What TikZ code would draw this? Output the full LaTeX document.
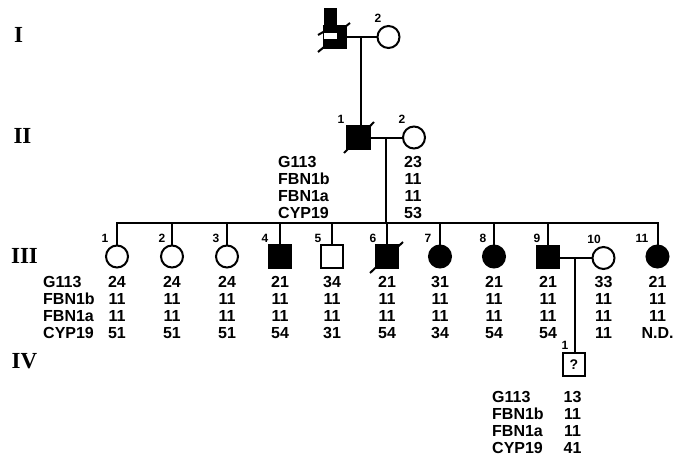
\documentclass[tikz,border=0pt]{standalone}
\usepackage{fontspec}
\setmainfont{Liberation Serif}
\newfontfamily\hv{Liberation Sans}
\begin{document}
\begin{tikzpicture}[x=1pt,y=-1pt,
  ln/.style={line width=2pt},
  fem/.style={circle,draw,line width=2pt,minimum size=22pt,inner sep=0pt},
  mal/.style={rectangle,draw,line width=2pt,minimum size=22.5pt,inner sep=0pt},
  aff/.style={fill=black},
  gen/.style={font=\bfseries\fontsize{23}{23}\selectfont,inner sep=0pt},
  idn/.style={font=\hv\bfseries\fontsize{12}{12}\selectfont,inner sep=0pt},
  geno/.style={font=\hv\bfseries\fontsize{16}{17}\selectfont,inner sep=0pt,align=center,anchor=north},
  hdr/.style={font=\hv\bfseries\fontsize{16}{17}\selectfont,inner sep=0pt,align=left,anchor=north west},
]
\useasboundingbox (0,0) rectangle (674,460);
\fill[white] (0,0) rectangle (674,460);

% generation labels
\node[gen] (gI) at (18.5,35) {I};
\node[gen] (gII) at (22.5,136) {II};
\node[gen] (gIII) at (24.5,256) {III};
\node[gen] (gIV) at (24.5,361.5) {IV};

% generation I
\node[mal,aff] (I1) at (335,37) {};
\fill (323.5,8) rectangle (337,26);
\fill[white] (323.5,33) rectangle (337,39);
\draw[ln] (318,52) -- (324,47);
\draw[ln] (318,35) -- (325,31);
\draw[ln] (345,27) -- (350,23);
\node[fem] (I2) at (388.5,37) {};
\node[idn] (nI2) at (378,18) {2};
\draw[ln] (I1.east) -- (I2.west);
\coordinate (m1) at (361,37);

% generation II
\node[mal,aff] (II1) at (358.5,137.5) {};
\draw[ln] (344,153) -- (374,122);
\node[fem] (II2) at (414,137.5) {};
\node[idn] (nII1) at (341,119) {1};
\node[idn] (nII2) at (402,119) {2};
\draw[ln] (m1) -- (m1 |- II1.north);
\draw[ln] (II1.east) -- (II2.west);
\coordinate (m2) at (386,137.5);
\node[hdr] (hII) at (278,156) {G113\\FBN1b\\FBN1a\\CYP19};
\node[geno] (vII2) at (413,156) {23\\11\\11\\53};

% generation III
\coordinate (s3) at (0,223);
\node[fem] (III1) at (117,256.5) {};
\node[fem] (III2) at (172,256.5) {};
\node[fem] (III3) at (227,256.5) {};
\node[mal,aff] (III4) at (280,256.5) {};
\node[mal] (III5) at (332,256.5) {};
\node[mal,aff] (III6) at (387,256.5) {};
\draw[ln] (370,273) -- (403,242);
\node[fem,aff] (III7) at (440,256.5) {};
\node[fem,aff] (III8) at (494,256.5) {};
\node[mal,aff] (III9) at (548,257) {};
\node[fem] (III10) at (603.5,258) {};
\node[fem,aff] (III11) at (657.5,256.5) {};

\draw[ln] (m2) -- (m2 |- s3);
\draw[line width=2.4pt,line cap=rect] (III1.north |- s3) -- (III11.north |- s3);
\foreach \n in {III1,III2,III3,III4,III5,III6,III7,III8,III9,III11}
  \draw[ln] (\n.north) -- (\n.north |- s3);
\draw[ln] (III9.east |- III10) -- (III10.west);
\coordinate (m3) at (575,258);

\node[idn] (nIII1) at (105,238) {1};
\node[idn] (nIII2) at (162,238) {2};
\node[idn] (nIII3) at (216,238) {3};
\node[idn] (nIII4) at (265,238) {4};
\node[idn] (nIII5) at (318,238) {5};
\node[idn] (nIII6) at (373,238) {6};
\node[idn] (nIII7) at (428,238) {7};
\node[idn] (nIII8) at (483,238) {8};
\node[idn] (nIII9) at (537,238) {9};
\node[idn] (nIII10) at (594,239) {10};
\node[idn] (nIII11) at (642,238) {11};

\node[hdr] (hIII) at (43,276) {G113\\FBN1b\\FBN1a\\CYP19};
\node[geno] (vIII1) at (117,276) {24\\11\\11\\51};
\node[geno] (vIII2) at (172,276) {24\\11\\11\\51};
\node[geno] (vIII3) at (227,276) {24\\11\\11\\51};
\node[geno] (vIII4) at (280,276) {21\\11\\11\\54};
\node[geno] (vIII5) at (332,276) {34\\11\\11\\31};
\node[geno] (vIII6) at (387,276) {21\\11\\11\\54};
\node[geno] (vIII7) at (440,276) {31\\11\\11\\34};
\node[geno] (vIII8) at (494,276) {21\\11\\11\\54};
\node[geno] (vIII9) at (548,276) {21\\11\\11\\54};
\node[geno] (vIII10) at (603.5,276) {33\\11\\11\\11};
\node[geno] (vIII11) at (657.5,276) {21\\11\\11\\N.D.};

% generation IV
\node[mal] (IV1) at (574,364.5) {\hv\bfseries\fontsize{14}{14}\selectfont ?};
\node[idn] (nIV1) at (565,345) {1};
\draw[ln] (m3) -- (m3 |- IV1.north);
\node[hdr] (hIV) at (492,391) {G113\\FBN1b\\FBN1a\\CYP19};
\node[geno] (vIV1) at (572.5,391) {13\\11\\11\\41};
\end{tikzpicture}
\end{document}
